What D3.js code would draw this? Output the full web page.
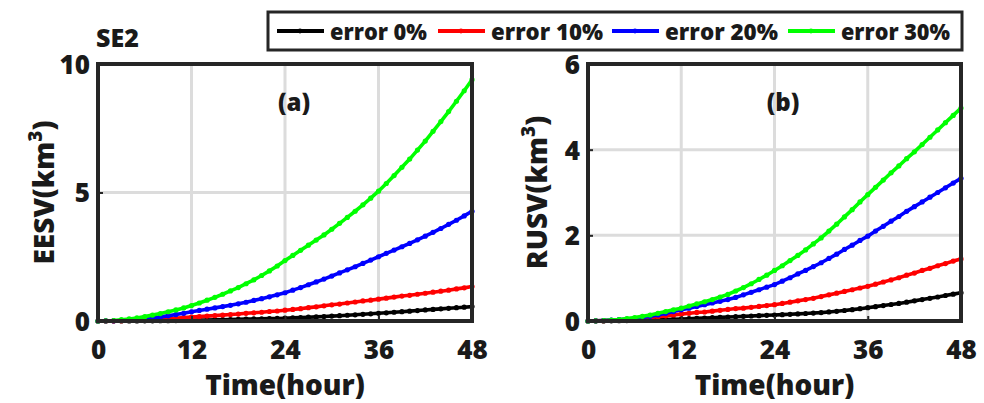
<!DOCTYPE html>
<html>
<head>
<meta charset="utf-8">
<script src="https://cdn.jsdelivr.net/npm/d3@7"></script>
<style>
  body { margin: 0; background: #fff; }
  text { font-family: "Open Sans", "Noto Sans", sans-serif; font-weight: 800; fill: #1a1a1a; }
</style>
</head>
<body>
<svg id="svgElem" width="984" height="403"></svg>
<script>
// hours 0..48
var hours = d3.range(0, 49);
var seriesNames = ["error 0%", "error 10%", "error 20%", "error 30%"];
var seriesColors = ["#000000", "#ff0000", "#0000ff", "#00ff00"];

// (a) EESV
var eesv0 = [0,0,0,0.001,0.002,0.003,0.005,0.007,0.01,0.013,0.017,0.022,0.027,0.033,0.039,0.045,0.051,0.058,0.065,0.072,0.079,0.086,0.093,0.1,0.108,0.12,0.133,0.147,0.16,0.175,0.19,0.207,0.224,0.242,0.26,0.28,0.3,0.32,0.34,0.362,0.384,0.407,0.43,0.452,0.473,0.495,0.517,0.538,0.56];
var eesv10 = [0,0.002,0.005,0.01,0.02,0.03,0.04,0.05,0.07,0.09,0.11,0.13,0.15,0.17,0.19,0.21,0.23,0.25,0.27,0.3,0.32,0.34,0.37,0.39,0.42,0.45,0.48,0.52,0.55,0.59,0.63,0.66,0.7,0.74,0.78,0.81,0.85,0.89,0.93,0.97,1.0,1.04,1.08,1.12,1.16,1.2,1.25,1.29,1.34];
var eesv20 = [0,0.005,0.01,0.02,0.04,0.06,0.09,0.12,0.16,0.2,0.25,0.3,0.36,0.41,0.46,0.51,0.56,0.61,0.67,0.73,0.8,0.87,0.94,1.02,1.1,1.2,1.3,1.41,1.52,1.63,1.75,1.87,1.99,2.11,2.24,2.37,2.5,2.63,2.76,2.89,3.02,3.16,3.3,3.45,3.6,3.76,3.92,4.09,4.27];
var eesv30 = [0,0.01,0.02,0.05,0.08,0.12,0.17,0.23,0.29,0.36,0.43,0.51,0.6,0.7,0.81,0.92,1.04,1.17,1.3,1.45,1.6,1.77,1.95,2.14,2.35,2.55,2.75,2.95,3.15,3.35,3.57,3.8,4.03,4.27,4.52,4.78,5.05,5.35,5.66,5.98,6.3,6.65,7.0,7.38,7.76,8.15,8.55,8.96,9.39];

// (b) RUSV
var rusv0 = [0,0.001,0.002,0.004,0.007,0.01,0.014,0.018,0.023,0.028,0.034,0.04,0.047,0.054,0.061,0.069,0.077,0.085,0.093,0.101,0.109,0.117,0.125,0.133,0.14,0.148,0.157,0.166,0.175,0.185,0.196,0.211,0.227,0.245,0.265,0.287,0.31,0.335,0.36,0.385,0.41,0.44,0.47,0.5,0.53,0.56,0.595,0.627,0.66];
var rusv10 = [0,0.003,0.008,0.015,0.025,0.035,0.05,0.065,0.08,0.1,0.12,0.14,0.16,0.18,0.2,0.21,0.23,0.25,0.27,0.29,0.3,0.32,0.34,0.36,0.38,0.41,0.44,0.47,0.5,0.53,0.57,0.61,0.65,0.69,0.73,0.77,0.81,0.86,0.91,0.96,1.01,1.07,1.12,1.18,1.23,1.29,1.34,1.4,1.45];
var rusv20 = [0,0.004,0.01,0.02,0.03,0.045,0.06,0.08,0.11,0.14,0.18,0.22,0.26,0.3,0.34,0.38,0.42,0.46,0.5,0.55,0.61,0.67,0.73,0.79,0.85,0.93,1.01,1.1,1.18,1.27,1.36,1.46,1.56,1.67,1.77,1.88,1.98,2.1,2.21,2.33,2.44,2.56,2.67,2.78,2.89,3.0,3.11,3.22,3.33];
var rusv30 = [0,0.005,0.01,0.02,0.035,0.055,0.08,0.11,0.14,0.18,0.22,0.26,0.3,0.35,0.4,0.45,0.5,0.56,0.62,0.7,0.78,0.87,0.97,1.07,1.18,1.29,1.41,1.53,1.66,1.8,1.94,2.1,2.26,2.43,2.6,2.78,2.95,3.12,3.29,3.46,3.62,3.79,3.95,4.12,4.29,4.46,4.63,4.8,4.97];

var xTicks = [0, 12, 24, 36, 48];
var yTicksA = [0, 5, 10];
var yTicksB = [0, 2, 4, 6];

var svg = d3.select("svg#svgElem");
var ink = "#262626";

function drawPanel(opt) {
    var x = d3.scaleLinear().domain([0, 48]).range([opt.left, opt.right]);
    var y = d3.scaleLinear().domain([0, opt.ymax]).range([opt.bottom, opt.top]);
    var g = svg.append("g");

    /* grid */
    g.selectAll("line.gx").data(xTicks.slice(1, -1)).enter().append("line")
        .attr("x1", function(d) { return x(d); }).attr("x2", function(d) { return x(d); })
        .attr("y1", opt.top).attr("y2", opt.bottom)
        .attr("stroke", "#dcdcdc").attr("stroke-width", 3);
    g.selectAll("line.gy").data(opt.yTicks.slice(1, -1)).enter().append("line")
        .attr("y1", function(d) { return y(d); }).attr("y2", function(d) { return y(d); })
        .attr("x1", opt.left).attr("x2", opt.right)
        .attr("stroke", "#dcdcdc").attr("stroke-width", 3);

    /* series */
    var line = d3.line()
        .x(function(d, i) { return x(hours[i]); })
        .y(function(d) { return y(d); });
    opt.series.forEach(function(s, k) {
        g.append("path").attr("d", line(s))
            .attr("fill", "none").attr("stroke", seriesColors[k]).attr("stroke-width", 3.6);
        g.selectAll(null).data(s).enter().append("circle")
            .attr("cx", function(d, i) { return x(hours[i]); })
            .attr("cy", function(d) { return y(d); })
            .attr("r", 2.6)
            .attr("fill", seriesColors[k]);
    });

    /* axes */
    var ax = g.append("g").attr("transform", "translate(0," + opt.bottom + ")")
        .call(d3.axisBottom(x).tickValues(xTicks).tickSize(-5).tickPadding(20));
    var ay = g.append("g").attr("transform", "translate(" + opt.left + ",0)")
        .call(d3.axisLeft(y).tickValues(opt.yTicks).tickFormat(d3.format("d")).tickSize(-5).tickPadding(8));
    [ax, ay].forEach(function(a) {
        a.select(".domain").remove();
        a.selectAll(".tick line").attr("stroke", ink).attr("stroke-width", 2);
        a.selectAll(".tick text").attr("font-size", 26).attr("fill", "#1a1a1a")
            .style("font-family", "'Open Sans', sans-serif").style("font-weight", 800);
    });
    ax.selectAll(".tick text").attr("dy", "0.71em");
    ay.selectAll(".tick text").attr("dy", "0.36em");

    g.append("rect")
        .attr("x", opt.left).attr("y", opt.top)
        .attr("width", opt.right - opt.left).attr("height", opt.bottom - opt.top)
        .attr("fill", "none").attr("stroke", ink).attr("stroke-width", 4);

    /* labels */
    g.append("text").attr("x", (opt.left + opt.right) / 2).attr("y", 395)
        .attr("text-anchor", "middle").attr("font-size", 28).text("Time(hour)");
    var yt = g.append("text")
        .attr("transform", "translate(" + opt.ytx + "," + ((opt.top + opt.bottom) / 2) + ") rotate(-90)")
        .attr("text-anchor", "middle").attr("font-size", 28);
    yt.append("tspan").text(opt.ytitle + "(km");
    yt.append("tspan").attr("font-size", 19).attr("dy", -12).text("3");
    yt.append("tspan").attr("dy", 12).text(")");

    g.append("text").attr("x", opt.tagX).attr("y", 111)
        .attr("text-anchor", "middle").attr("font-size", 24).text(opt.tag);
}

drawPanel({ left: 98, right: 472, top: 64, bottom: 321, ymax: 10, yTicks: yTicksA,
    series: [eesv0, eesv10, eesv20, eesv30], ytitle: "EESV", ytx: 54, tag: "(a)", tagX: 294 });
drawPanel({ left: 588, right: 961, top: 64, bottom: 321, ymax: 6, yTicks: yTicksB,
    series: [rusv0, rusv10, rusv20, rusv30], ytitle: "RUSV", ytx: 547, tag: "(b)", tagX: 783 });

svg.append("text").attr("x", 96).attr("y", 47).attr("font-size", 25).text("SE2");

/* legend */
var leg = svg.append("g");
leg.append("rect").attr("x", 268).attr("y", 12).attr("width", 694).attr("height", 38)
    .attr("fill", "#fff").attr("stroke", ink).attr("stroke-width", 3);
var legX = [277, 438, 612, 788];
seriesNames.forEach(function(n, k) {
    leg.append("line").attr("x1", legX[k]).attr("x2", legX[k] + 47)
        .attr("y1", 31).attr("y2", 31)
        .attr("stroke", seriesColors[k]).attr("stroke-width", 4);
    leg.append("circle").attr("cx", legX[k] + 23).attr("cy", 31).attr("r", 2.4).attr("fill", seriesColors[k]);
    leg.append("text").attr("x", legX[k] + 53).attr("y", 39.5).attr("font-size", 22)
        .attr("textLength", [97, 112, 113, 109][k]).attr("lengthAdjust", "spacingAndGlyphs").text(n);
});
</script>
</body>
</html>
